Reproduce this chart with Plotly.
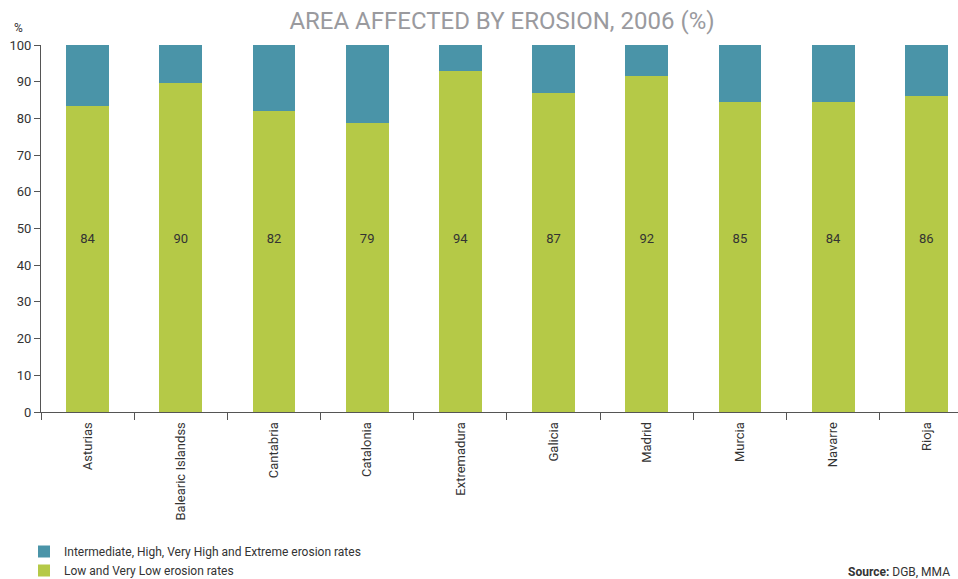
import plotly.graph_objects as go

regions = ["Asturias", "Balearic Islandss", "Cantabria", "Catalonia", "Extremadura",
           "Galicia", "Madrid", "Murcia", "Navarre", "Rioja"]
low_rates = [83.5, 89.6, 82.0, 78.8, 93.0, 87.0, 91.6, 84.5, 84.4, 86.2]
high_rates = [round(100 - v, 1) for v in low_rates]
low_labels = ["84", "90", "82", "79", "94", "87", "92", "85", "84", "86"]
label_level = [47] * len(regions)

GREEN = "#b5c947"
TEAL = "#4a94a8"
FONT = "Roboto"
TXT = "#333333"

W, H = 958, 579
L, R, T, B = 41, 0, 45, 167
PW, PH = W - L - R, H - T - B


def px(x):
    return (x - L) / PW


def py(y):
    return (H - B - y) / PH


fig = go.Figure()
fig.add_trace(go.Bar(x=regions, y=low_rates, name="Low and Very Low erosion rates",
                     marker=dict(color=GREEN, line=dict(width=0)), width=0.46))
fig.add_trace(go.Bar(x=regions, y=high_rates,
                     name="Intermediate, High, Very High and Extreme erosion rates",
                     marker=dict(color=TEAL, line=dict(width=0)), width=0.46))
fig.add_trace(go.Scatter(x=regions, y=label_level, text=low_labels, mode="text",
                         textfont=dict(family=FONT, size=13, color=TXT),
                         showlegend=False, hoverinfo="skip"))

fig.update_layout(
    width=W, height=H,
    barmode="stack",
    plot_bgcolor="white", paper_bgcolor="white",
    margin=dict(l=L, r=R, t=T, b=B, autoexpand=False),
    font=dict(family=FONT, size=12, color=TXT),
    title=dict(text="AREA AFFECTED BY EROSION, 2006 (%)", x=502 / W, xanchor="center",
               y=1 - 21 / H, yanchor="middle",
               font=dict(family=FONT, size=24, color="#9a9a9e")),
    showlegend=True,
    legend=dict(orientation="v", x=px(24), xanchor="left", y=py(537), yanchor="top",
                traceorder="reversed",
                font=dict(family=FONT, size=12, color=TXT),
                tracegroupgap=0, bgcolor="rgba(0,0,0,0)"),
    xaxis=dict(type="category", range=[-0.5, 9.34], tickson="boundaries",
               ticks="outside", ticklen=7, tickcolor="#555555", tickangle=-90,
               ticklabelstandoff=4,
               showline=True, linecolor="#555555", linewidth=1, showgrid=False,
               tickfont=dict(family=FONT, size=13, color=TXT)),
    yaxis=dict(range=[0, 100], dtick=10, ticks="outside", ticklen=6,
               tickcolor="#555555", showline=True, linecolor="#555555", linewidth=1,
               showgrid=False, zeroline=False,
               tickfont=dict(family=FONT, size=13, color=TXT)),
    annotations=[
        dict(text="%", x=px(18), y=py(28), xref="paper", yref="paper",
             xanchor="center", yanchor="middle", showarrow=False,
             font=dict(family=FONT, size=12, color=TXT)),
        dict(text="<b>Source:</b> DGB, MMA", x=px(952), y=py(572),
             xref="paper", yref="paper", xanchor="right", yanchor="middle",
             showarrow=False, font=dict(family=FONT, size=12, color=TXT)),
    ],
)

fig.write_html("out.html")
